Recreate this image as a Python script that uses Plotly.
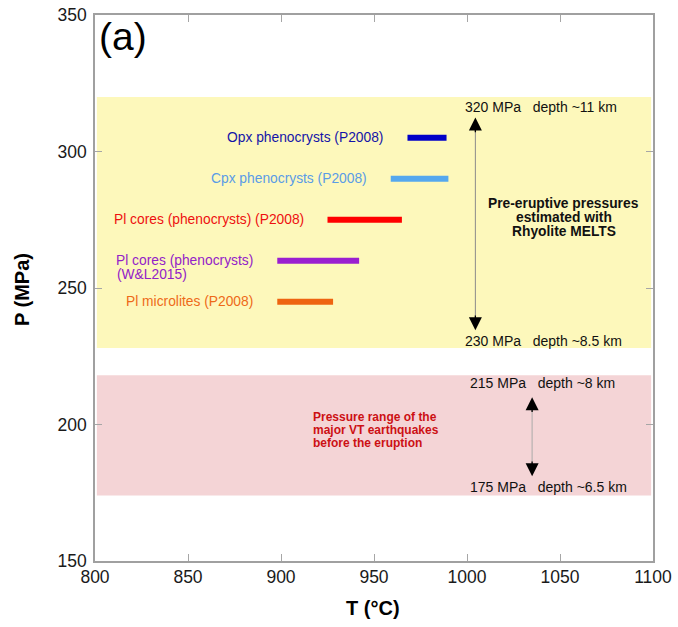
import plotly.graph_objects as go

# Crystallisation pressure/temperature ranges (T in °C, P in MPa)
phase_labels = ["Opx phenocrysts (P2008)", "Cpx phenocrysts (P2008)",
                "Pl cores (phenocrysts) (P2008)", "Pl cores (phenocrysts)",
                "Pl microlites (P2008)"]
second_line = ["", "", "", "(W&L2015)", ""]
t_min = [968, 959, 925, 898, 898]
t_max = [989, 990, 965, 942, 928]
pressure = [305, 290, 275, 260, 245]
bar_colors = ["#0000c8", "#55a8ee", "#ff0000", "#9a1fd0", "#ee6410"]
text_colors = ["#1414a8", "#5a9ce6", "#ee1010", "#9322c8", "#ee6a18"]

# Pressure bands
melts_band = [228, 320]
vt_band = [174, 218]

# Arrows spanning each band
melts_arrow_t = 1004.5
melts_arrow_p = [234.5, 312.5]
vt_arrow_t = 1035
vt_arrow_p = [181, 210]

x_ticks = [800, 850, 900, 950, 1000, 1050, 1100]
y_ticks = [150, 200, 250, 300, 350]

FONT = "Liberation Sans, Arial, Helvetica, sans-serif"

fig = go.Figure()

# background bands
fig.add_shape(type="rect", xref="x", yref="y", x0=801, x1=1099,
              y0=melts_band[0], y1=melts_band[1],
              fillcolor="#fdf8bb", line_width=0, layer="below")
fig.add_shape(type="rect", xref="x", yref="y", x0=801, x1=1099,
              y0=vt_band[0], y1=vt_band[1],
              fillcolor="#f4d4d6", line_width=0, layer="below")

# range bars
for lab, a, b, p, c in zip(phase_labels, t_min, t_max, pressure, bar_colors):
    fig.add_trace(go.Scatter(x=[a, b], y=[p, p], mode="lines",
                             line=dict(color=c, width=6), name=lab,
                             hoverinfo="skip", showlegend=False))

# bar labels (right-aligned just left of each bar)
for lab, lab2, a, p, tc in zip(phase_labels, second_line, t_min, pressure, text_colors):
    fig.add_annotation(x=a, y=p, text=lab, showarrow=False, xanchor="right",
                       xshift=-22, yanchor="middle",
                       font=dict(family=FONT, size=13.8, color=tc))
    if lab2:
        fig.add_annotation(x=a, y=p, text=lab2, showarrow=False,
                           xanchor="left", xshift=-162, yshift=-13.5,
                           yanchor="middle",
                           font=dict(family=FONT, size=13.8, color=tc))

# double arrows: thin grey shaft with black heads
for t, (p0, p1), shaft in [(melts_arrow_t, melts_arrow_p, "#8a8a8a"),
                           (vt_arrow_t, vt_arrow_p, "#aaaaaa")]:
    fig.add_trace(go.Scatter(x=[t, t], y=[p0 + 2, p1 - 2], mode="lines",
                             line=dict(color=shaft, width=1),
                             hoverinfo="skip", showlegend=False))
    for tip, base in [(p1, p1 - 6), (p0, p0 + 6)]:
        fig.add_annotation(x=t, y=tip, ax=t, ay=base, axref="x", ayref="y",
                           xref="x", yref="y", text="", showarrow=True,
                           arrowhead=2, arrowsize=2.0, arrowwidth=1.3,
                           arrowcolor="#000000")

NB = "\u00a0"
depth_notes = [
    (1039.6, 316.3, f"320 MPa{NB*3}depth ~11 km"),
    (1041, 230.7, f"230 MPa{NB*3}depth ~8.5 km"),
    (1040.7, 215.2, f"215 MPa{NB*3}depth ~8 km"),
    (1044, 177, f"175 MPa{NB*3}depth ~6.5 km"),
]
for x, y, txt in depth_notes:
    fig.add_annotation(x=x, y=y, text=txt, showarrow=False, xanchor="center",
                       yanchor="middle",
                       font=dict(family=FONT, size=14, color="#111111"))

melts_lines = ["Pre-eruptive pressures", "estimated with", "Rhyolite MELTS"]
for k, line in enumerate(melts_lines):
    fig.add_annotation(x=1052, y=276, yshift=14 - 14 * k, text=f"<b>{line}</b>",
                       showarrow=False, xanchor="center", yanchor="middle",
                       font=dict(family=FONT, size=13.8, color="#111111"))

vt_lines = ["Pressure range of the", "major VT earthquakes", "before the eruption"]
for k, line in enumerate(vt_lines):
    fig.add_annotation(x=916.3, y=198, yshift=13 - 13 * k, text=f"<b>{line}</b>",
                       showarrow=False, xanchor="left", yanchor="middle",
                       font=dict(family=FONT, size=12, color="#cc1014"))

# panel letter
fig.add_annotation(xref="paper", yref="paper", x=0.004, y=1.004, text="(a)",
                   showarrow=False, xanchor="left", yanchor="top",
                   font=dict(family=FONT, size=39, color="#000000"))

# axis titles
fig.add_annotation(xref="paper", yref="paper", x=0.499, y=-0.086,
                   text="<b>T (°C)</b>", showarrow=False,
                   xanchor="center", yanchor="middle",
                   font=dict(family=FONT, size=20, color="#000000"))
fig.add_annotation(xref="paper", yref="paper", x=-0.131, y=0.498,
                   text="<b>P (MPa)</b>", showarrow=False, textangle=-90,
                   xanchor="center", yanchor="middle",
                   font=dict(family=FONT, size=20, color="#000000"))

axis_common = dict(showline=True, linecolor="#a0a0a0", linewidth=1.5,
                   mirror="ticks", ticks="inside", ticklen=7, tickcolor="#a6a6a6",
                   tickwidth=1, showgrid=False, zeroline=False, automargin=False,
                   tickfont=dict(family=FONT, size=17.5, color="#1a1a1a"))

fig.update_xaxes(range=[800, 1100], tickvals=x_ticks, ticklabelstandoff=-1,
                 **axis_common)
fig.update_yaxes(range=[150, 350], tickvals=y_ticks, ticklabelstandoff=3,
                 **axis_common)

fig.update_layout(width=678, height=627,
                  margin=dict(l=95, r=25, t=15, b=66),
                  paper_bgcolor="white", plot_bgcolor="white",
                  showlegend=False)

fig.write_html("out.html")
